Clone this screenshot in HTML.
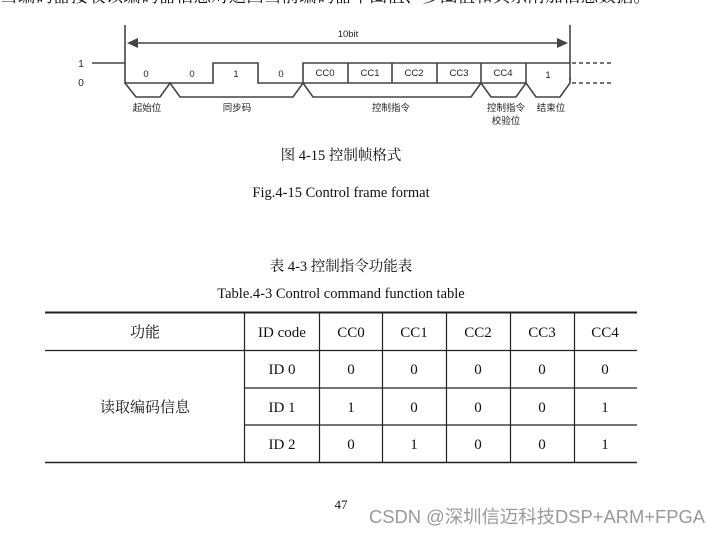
<!DOCTYPE html>
<html><head><meta charset="utf-8"><style>
html,body{margin:0;padding:0;background:#fff;}
svg{display:block;}
.s{font-family:"Liberation Serif","Noto Serif CJK SC","Noto Sans CJK SC",serif;fill:#111;}
.a{font-family:"Liberation Sans","Noto Sans CJK SC",sans-serif;fill:#222;}
</style></head><body>
<svg width="721" height="535" viewBox="0 0 721 535" xmlns="http://www.w3.org/2000/svg">
<text x="0" y="2" class="s" font-size="17.6">当编码器接收该编码器信息对返回当前编码器单圈值、多圈值和其余附加信息数据。</text>
<g stroke="#444" stroke-width="1.6" fill="none">
<line x1="125" y1="25" x2="125" y2="84"/>
<line x1="570" y1="25" x2="570" y2="80"/>
<line x1="130" y1="43" x2="565" y2="43"/>
<line x1="92" y1="63" x2="125" y2="63"/>
<polyline points="125,83 213,83 213,63 258,63 258,83 303,83 303,63 570,63"/>
<line x1="303" y1="83" x2="526" y2="83"/>
<line x1="348" y1="63" x2="348" y2="83"/>
<line x1="392" y1="63" x2="392" y2="83"/>
<line x1="437" y1="63" x2="437" y2="83"/>
<line x1="481" y1="63" x2="481" y2="83"/>
<line x1="526" y1="63" x2="526" y2="83"/>
<polyline points="125,83 136,97 160,97 170,83 180,97 293,97 303,83 313,97 471,97 481,83 491,97 516,97 526,83 536,97 560,97 570,83 570,78"/>
<line x1="572" y1="63" x2="612" y2="63" stroke-dasharray="4,3"/>
<line x1="572" y1="83" x2="612" y2="83" stroke-dasharray="4,3"/>
</g>
<polygon points="127,43 138,38 138,48" fill="#444"/>
<polygon points="568,43 557,38 557,48" fill="#444"/>
<g class="a" font-size="9.5" text-anchor="middle">
<text x="348" y="37">10bit</text>
<text x="81" y="67" font-size="10">1</text>
<text x="81" y="86" font-size="10">0</text>
<text x="146" y="77">0</text><text x="192" y="77">0</text><text x="236" y="77">1</text><text x="281" y="77">0</text>
<text x="325" y="76">CC0</text><text x="370" y="76">CC1</text><text x="414" y="76">CC2</text><text x="459" y="76">CC3</text><text x="503" y="76">CC4</text><text x="548" y="78">1</text>
<text x="147" y="111">起始位</text><text x="237" y="111">同步码</text><text x="391" y="111">控制指令</text>
<text x="506" y="111">控制指令</text><text x="506" y="124">校验位</text><text x="551" y="111">结束位</text>
</g>
<g class="s" text-anchor="middle" font-size="14.5">
<text x="341" y="160">图 4-15  控制帧格式</text>
<text x="341" y="197">Fig.4-15 Control frame format</text>
<text x="341" y="271">表 4-3  控制指令功能表</text>
<text x="341" y="298">Table.4-3 Control command function table</text>
<text x="341" y="509" font-size="13">47</text>
</g>
<g stroke="#222" fill="none">
<line x1="45" y1="312.5" x2="637" y2="312.5" stroke-width="2"/>
<line x1="45" y1="350.5" x2="637" y2="350.5" stroke-width="1.2"/>
<line x1="244" y1="388" x2="637" y2="388" stroke-width="1.2"/>
<line x1="244" y1="425" x2="637" y2="425" stroke-width="1.2"/>
<line x1="45" y1="462.5" x2="637" y2="462.5" stroke-width="1.4"/>
<line x1="244.5" y1="313" x2="244.5" y2="462" stroke-width="1.2"/>
<line x1="319.5" y1="313" x2="319.5" y2="462" stroke-width="1.2"/>
<line x1="382.5" y1="313" x2="382.5" y2="462" stroke-width="1.2"/>
<line x1="446.5" y1="313" x2="446.5" y2="462" stroke-width="1.2"/>
<line x1="510.5" y1="313" x2="510.5" y2="462" stroke-width="1.2"/>
<line x1="574.5" y1="313" x2="574.5" y2="462" stroke-width="1.2"/>
</g>
<g class="s" text-anchor="middle" font-size="15">
<text x="145" y="337">功能</text><text x="282" y="337">ID code</text>
<text x="351" y="337">CC0</text><text x="414" y="337">CC1</text><text x="478" y="337">CC2</text><text x="542" y="337">CC3</text><text x="605" y="337">CC4</text>
<text x="145" y="412">读取编码信息</text>
<text x="282" y="374">ID 0</text><text x="351" y="374">0</text><text x="414" y="374">0</text><text x="478" y="374">0</text><text x="542" y="374">0</text><text x="605" y="374">0</text>
<text x="282" y="412">ID 1</text><text x="351" y="412">1</text><text x="414" y="412">0</text><text x="478" y="412">0</text><text x="542" y="412">0</text><text x="605" y="412">1</text>
<text x="282" y="449">ID 2</text><text x="351" y="449">0</text><text x="414" y="449">1</text><text x="478" y="449">0</text><text x="542" y="449">0</text><text x="605" y="449">1</text>
</g>
<text x="369" y="523" textLength="336" lengthAdjust="spacingAndGlyphs" font-family="'Liberation Sans','Noto Sans CJK SC',sans-serif" font-size="18.3" fill="#999">CSDN @深圳信迈科技DSP+ARM+FPGA</text>
</svg>
</body></html>
